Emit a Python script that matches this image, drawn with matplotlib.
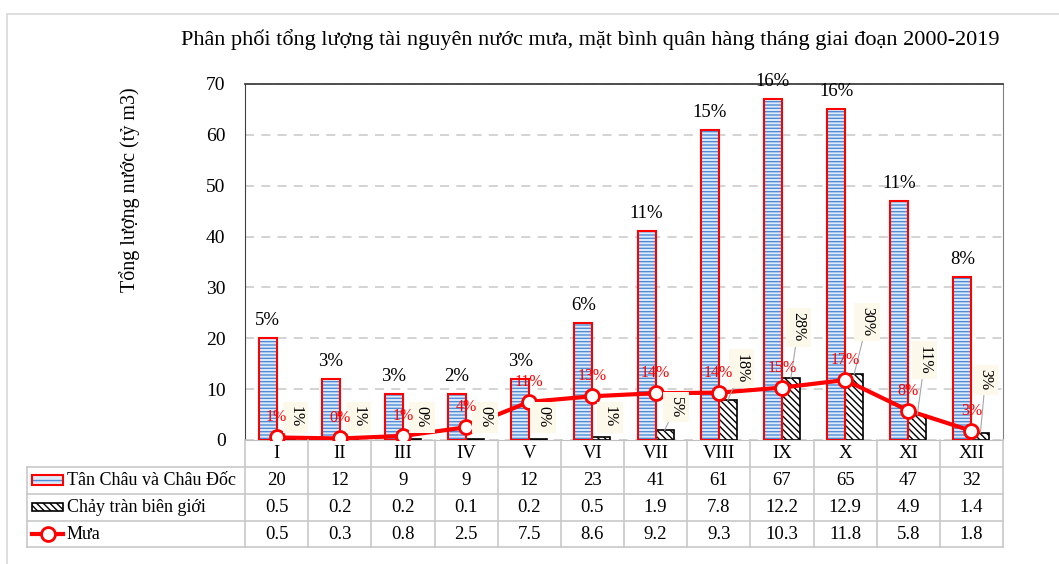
import matplotlib
matplotlib.use("Agg")
import matplotlib.pyplot as plt
from matplotlib.patches import Rectangle
from matplotlib.lines import Line2D

plt.rcParams['font.family'] = ['Liberation Serif', 'DejaVu Serif']
plt.rcParams['hatch.linewidth'] = 1.0

months = ['I', 'II', 'III', 'IV', 'V', 'VI', 'VII', 'VIII', 'IX', 'X', 'XI', 'XII']
tan_chau = [20, 12, 9, 9, 12, 23, 41, 61, 67, 65, 47, 32]
chay_tran = [0.5, 0.2, 0.2, 0.1, 0.2, 0.5, 1.9, 7.8, 12.2, 12.9, 4.9, 1.4]
mua = [0.5, 0.3, 0.8, 2.5, 7.5, 8.6, 9.2, 9.3, 10.3, 11.8, 5.8, 1.8]
pct_tan_chau = ['5%', '3%', '3%', '2%', '3%', '6%', '11%', '15%', '16%', '16%', '11%', '8%']
pct_chay_tran = ['1%', '1%', '0%', '0%', '0%', '1%', '5%', '18%', '28%', '30%', '11%', '3%']
pct_mua = ['1%', '0%', '1%', '4%', '11%', '13%', '14%', '14%', '15%', '17%', '8%', '3%']

series_names = ['Tân Châu và Châu Đốc', 'Chảy tràn biên giới', 'Mưa']
title = 'Phân phối tổng lượng tài nguyên nước mưa, mặt bình quân hàng tháng giai đoạn 2000-2019'
ylabel = 'Tổng lượng nước (tỷ m3)'

# layout: where the rotated labels of the hatched bars sit (offset from category, height)
rot_label_dx = [0.3, 0.3, 0.3, 0.3, 0.22, 0.28, 0.32, 0.36, 0.26, 0.35, 0.26, 0.22]
rot_label_y = [4.5, 4.5, 4.5, 4.5, 4.5, 4.5, 6.5, 14.1, 22.2, 23.2, 15.7, 11.8]

W, H = 1059, 564
fig = plt.figure(figsize=(W / 100, H / 100), dpi=100)

# outer chart border (cut at right / bottom like the screenshot)
fig.patches.append(Rectangle((7 / W, -0.1), 1.2, 1 - 14 / H + 0.1, transform=fig.transFigure,
                             fill=False, edgecolor='#D9D9D9', lw=1.2))

L, R, T, B = 245, 1003, 84, 440
ax = fig.add_axes([L / W, 1 - B / H, (R - L) / W, (B - T) / H])
x = list(range(len(months)))
bw = 0.285

blue_x = [i - bw / 2 for i in x]
black_x = [i + bw / 2 for i in x]

ax.bar(blue_x, tan_chau, width=bw, color='#DDEBF8', edgecolor='#4F8BD6', hatch='-----', lw=0, zorder=2)
ax.bar(blue_x, tan_chau, width=bw, fill=False, edgecolor='#FF0000', lw=1.5, zorder=3)
ax.bar(black_x, chay_tran, width=bw, color='white', edgecolor='black', hatch='\\\\\\\\\\', lw=1.2, zorder=2)
ax.plot(x, mua, color='#FF0000', lw=3, marker='o', ms=10, mfc='white', mec='#FF0000', mew=2, zorder=5)

for i in x:
    ax.annotate(pct_tan_chau[i], (blue_x[i], tan_chau[i]), xytext=(0, 9), textcoords='offset pixels',
                ha='center', va='bottom', fontsize=13.5, annotation_clip=False, zorder=6)
    arrow = None
    if rot_label_y[i] - chay_tran[i] > 4.5:
        arrow = dict(arrowstyle='-', color='#A6A6A6', lw=0.8, shrinkA=0, shrinkB=0)
    ax.annotate(pct_chay_tran[i], (black_x[i], chay_tran[i]), xytext=(i + rot_label_dx[i], rot_label_y[i]),
                textcoords='data', ha='center', va='center', rotation=-90, fontsize=11.5,
                bbox=dict(boxstyle='square,pad=0.3', fc='#FCF8EA', ec='none'),
                arrowprops=arrow, zorder=6)
    ax.annotate(pct_mua[i], (i, mua[i]), xytext=(0, 20), textcoords='offset pixels',
                ha='center', va='center', fontsize=11.5, color='#FF0000', zorder=7)

ax.set_xlim(-0.5, 11.5)
ax.set_ylim(0, 70)
ax.set_yticks(range(0, 71, 10))
ax.set_xticks([])
ax.tick_params(axis='y', length=0, labelsize=14, pad=14)
ax.grid(axis='y', color='#D0D0D0', ls=(0, (5, 4)), lw=1.3, zorder=0)
ax.set_axisbelow(True)
ax.spines['left'].set_color('#404040')
ax.spines['top'].set_color('#404040')
ax.spines['top'].set_linewidth(1.3)
ax.spines['right'].set_color('#808080')
ax.spines['bottom'].set_color('#BFBFBF')
ax.set_ylabel(ylabel, fontsize=14.5)
ax.yaxis.set_label_coords((140 - L) / (R - L), (B - 190) / (B - T))

fig.text(590 / W, 1 - 40 / H, title, ha='center', va='center', fontsize=16)

# data table under the plot
TL, TB = 27, 547
cat_px = (R - L) / 12
x0 = -0.5 - (L - TL) / cat_px
tax = fig.add_axes([TL / W, 1 - TB / H, (R - TL) / W, (TB - B) / H])
tax.set_xlim(x0, 11.5)
tax.set_ylim(TB - B, 0)
tax.axis('off')


def px2x(px):
    return x0 + (px - TL) / cat_px


gc = '#C8C8C8'
row_lines = [27, 54, 81, 107]
for yy in row_lines:
    tax.plot([x0, 11.5], [yy, yy], color=gc, lw=1.2, clip_on=False)
tax.plot([x0, x0], [27, 107], color=gc, lw=1.2, clip_on=False)
for k in range(13):
    tax.plot([k - 0.5, k - 0.5], [0, 107], color=gc, lw=1.2, clip_on=False)

rows = [[f'{v:g}' for v in tan_chau], [f'{v:.1f}' for v in chay_tran], [f'{v:.1f}' for v in mua]]
for i in x:
    tax.text(i, 14, months[i], ha='center', va='center', fontsize=13.5)
    for r in range(3):
        tax.text(i, 40.5 + 27 * r, rows[r][i], ha='center', va='center', fontsize=13.5)

for r in range(3):
    tax.text(px2x(67), 40.5 + 27 * r, series_names[r], ha='left', va='center', fontsize=13)

kx, kw = px2x(32), px2x(63) - px2x(32)
tax.add_patch(Rectangle((kx, 35), kw, 10, facecolor='#DDEBF8', edgecolor='#4F8BD6', hatch='---', lw=0))
tax.add_patch(Rectangle((kx, 35), kw, 10, fill=False, edgecolor='#FF0000', lw=1.5))
tax.add_patch(Rectangle((kx, 63), kw, 8, facecolor='white', edgecolor='black', hatch='\\\\\\\\\\', lw=1.2))
tax.add_line(Line2D([kx, kx + kw], [94, 94], color='#FF0000', lw=3))
tax.add_line(Line2D([kx + kw / 2], [94], marker='o', ms=10, mfc='white', mec='#FF0000', mew=2))

fig.savefig('out.png', dpi=100)
